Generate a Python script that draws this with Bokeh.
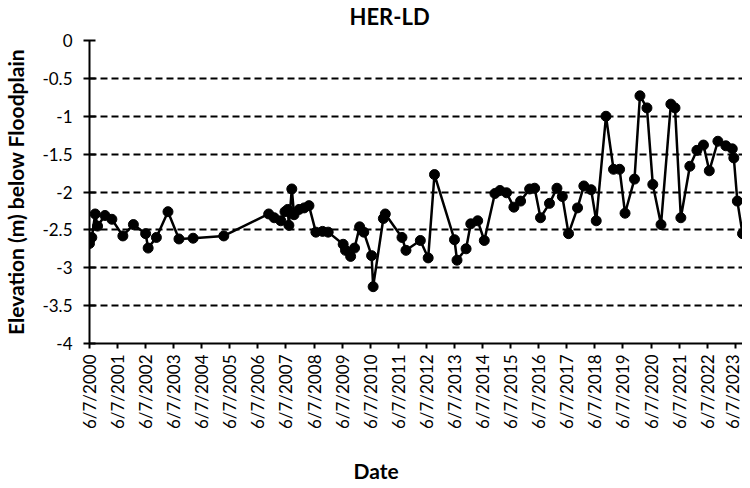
import math
import pandas as pd
from bokeh.plotting import figure
from bokeh.models import Range1d, FixedTicker, ColumnDataSource, Title
from bokeh.embed import file_html
from bokeh.resources import INLINE

# ---- data ----
dates = [
    "2000-06-07", "2000-07-07", "2000-08-20", "2000-09-20", "2000-12-25", "2001-03-25",
    "2001-08-15", "2001-12-30", "2002-06-07", "2002-07-10", "2002-10-25", "2003-03-25",
    "2003-08-15", "2004-02-15", "2005-03-20", "2006-10-25", "2007-01-05", "2007-04-01",
    "2007-05-25", "2007-06-30", "2007-07-15", "2007-08-22", "2007-09-20", "2007-11-25",
    "2008-01-30", "2008-04-01", "2008-06-30", "2008-09-25", "2008-12-07", "2009-06-20",
    "2009-07-20", "2009-09-25", "2009-11-15", "2010-01-20", "2010-03-15", "2010-06-25",
    "2010-07-15", "2010-11-25", "2010-12-20", "2011-07-25", "2011-09-15", "2012-03-20",
    "2012-06-30", "2012-09-20", "2013-06-07", "2013-07-10", "2013-11-05", "2014-01-05",
    "2014-04-05", "2014-06-30", "2014-11-15", "2015-01-20", "2015-04-15", "2015-07-20",
    "2015-10-15", "2016-02-10", "2016-04-15", "2016-06-30", "2016-10-25", "2017-01-30",
    "2017-04-10", "2017-06-30", "2017-10-25", "2018-01-15", "2018-04-20", "2018-06-25",
    "2018-10-30", "2019-02-05", "2019-04-25", "2019-07-05", "2019-11-05", "2020-01-15",
    "2020-04-15", "2020-06-30", "2020-10-15", "2021-02-20", "2021-04-15", "2021-06-30",
    "2021-10-25", "2022-01-25", "2022-04-20", "2022-07-05", "2022-10-25", "2023-02-05",
    "2023-04-30", "2023-05-20", "2023-07-05", "2023-09-10",
]
elevation = [
    -2.68, -2.60, -2.29, -2.45, -2.31, -2.36,
    -2.58, -2.43, -2.55, -2.74, -2.60, -2.26,
    -2.62, -2.61, -2.58, -2.29, -2.34, -2.38,
    -2.26, -2.23, -2.44, -1.96, -2.30, -2.23,
    -2.21, -2.18, -2.53, -2.52, -2.53, -2.69,
    -2.77, -2.85, -2.74, -2.46, -2.53, -2.84,
    -3.25, -2.35, -2.29, -2.60, -2.77, -2.64,
    -2.87, -1.77, -2.63, -2.90, -2.75, -2.42,
    -2.38, -2.64, -2.02, -1.98, -2.01, -2.20,
    -2.12, -1.96, -1.95, -2.34, -2.15, -1.95,
    -2.06, -2.55, -2.21, -1.92, -1.97, -2.38,
    -1.00, -1.70, -1.70, -2.28, -1.83, -0.73,
    -0.89, -1.90, -2.43, -0.84, -0.89, -2.34,
    -1.66, -1.45, -1.38, -1.72, -1.33, -1.39,
    -1.43, -1.55, -2.12, -2.55,
]
x_tick_dates = [f"{y}-06-07" for y in range(2000, 2024)]
x_tick_labels = [f"6/7/{y}" for y in range(2000, 2024)]
y_ticks = [0, -0.5, -1, -1.5, -2, -2.5, -3, -3.5, -4]
y_tick_labels = ["0", "-0.5", "-1", "-1.5", "-2", "-2.5", "-3", "-3.5", "-4"]
grid_levels = [-0.5, -1, -1.5, -2, -2.5, -3, -3.5]

title_text = "HER-LD"
x_title = "Date"
y_title = "Elevation (m) below Floodplain"

FONT = "Lato"

src = ColumnDataSource(dict(x=pd.to_datetime(dates), y=elevation))

x_start = pd.Timestamp("2000-06-07")
x_end = pd.Timestamp("2023-09-10")

p = figure(width=742, height=492, x_axis_type="datetime",
           x_range=Range1d(x_start, x_end), y_range=Range1d(-4, 0),
           output_backend="svg", toolbar_location=None,
           min_border_left=85, min_border_right=0, min_border_top=48,
           min_border_bottom=138, margin=(-8, 0, 0, 0))
p.outline_line_color = None
p.background_fill_color = "white"
p.border_fill_color = "white"

# grids
p.xgrid.grid_line_color = None
p.ygrid.ticker = FixedTicker(ticks=grid_levels)
p.ygrid.grid_line_color = "black"
p.ygrid.grid_line_width = 2
p.ygrid.grid_line_dash = "7 4"

# data
p.line("x", "y", source=src, line_color="black", line_width=2.5)
p.scatter("x", "y", source=src, size=10, fill_color="black", line_color="black")

# x axis
tick_ms = [pd.Timestamp(d).value / 1e6 for d in x_tick_dates]
xa = p.xaxis[0]
xa.ticker = FixedTicker(ticks=tick_ms)
xa.major_label_overrides = {float(k): v for k, v in zip(tick_ms, x_tick_labels)}
xa.major_label_orientation = math.pi / 2
xa.major_label_text_font = FONT
xa.major_label_text_font_size = "17px"
xa.major_label_text_color = "black"
xa.major_label_standoff = 6
xa.axis_line_color = "black"
xa.axis_line_width = 2
xa.major_tick_line_color = "black"
xa.major_tick_line_width = 2
xa.major_tick_out = 5
xa.major_tick_in = 0
xa.minor_tick_line_color = None

# y axis
ya = p.yaxis[0]
ya.ticker = FixedTicker(ticks=y_ticks)
ya.major_label_overrides = {float(k): v for k, v in zip(y_ticks, y_tick_labels)}
ya.major_label_text_font = FONT
ya.major_label_text_font_size = "17px"
ya.major_label_text_color = "black"
ya.major_label_standoff = 11
ya.axis_line_color = "black"
ya.axis_line_width = 2
ya.major_tick_line_color = "black"
ya.major_tick_line_width = 2
ya.major_tick_out = 6
ya.major_tick_in = 6
ya.minor_tick_line_color = None
ya.axis_label = y_title
ya.axis_label_text_font = FONT
ya.axis_label_text_font_size = "21px"
ya.axis_label_text_font_style = "bold"
ya.axis_label_text_color = "black"
ya.axis_label_standoff = 11

# chart title: blank spacer next to the frame, then the title
p.add_layout(Title(text=" ", text_font_size="1px", text_color="white", standoff=8), "above")
p.add_layout(Title(text=title_text, align="left", offset=260, text_font=FONT,
                   text_font_size="22px", text_font_style="bold", text_color="black",
                   standoff=0, vertical_align="bottom"), "above")

# x-axis title: blank spacer below the axis, then "Date"
p.add_layout(Title(text=" ", text_font_size="1px", text_color="white", standoff=22), "below")
p.add_layout(Title(text=x_title, align="left", offset=264, text_font=FONT,
                   text_font_size="21px", text_font_style="bold", text_color="black",
                   standoff=0, vertical_align="top"), "below")

open("out.html", "w").write(file_html(p, INLINE))
